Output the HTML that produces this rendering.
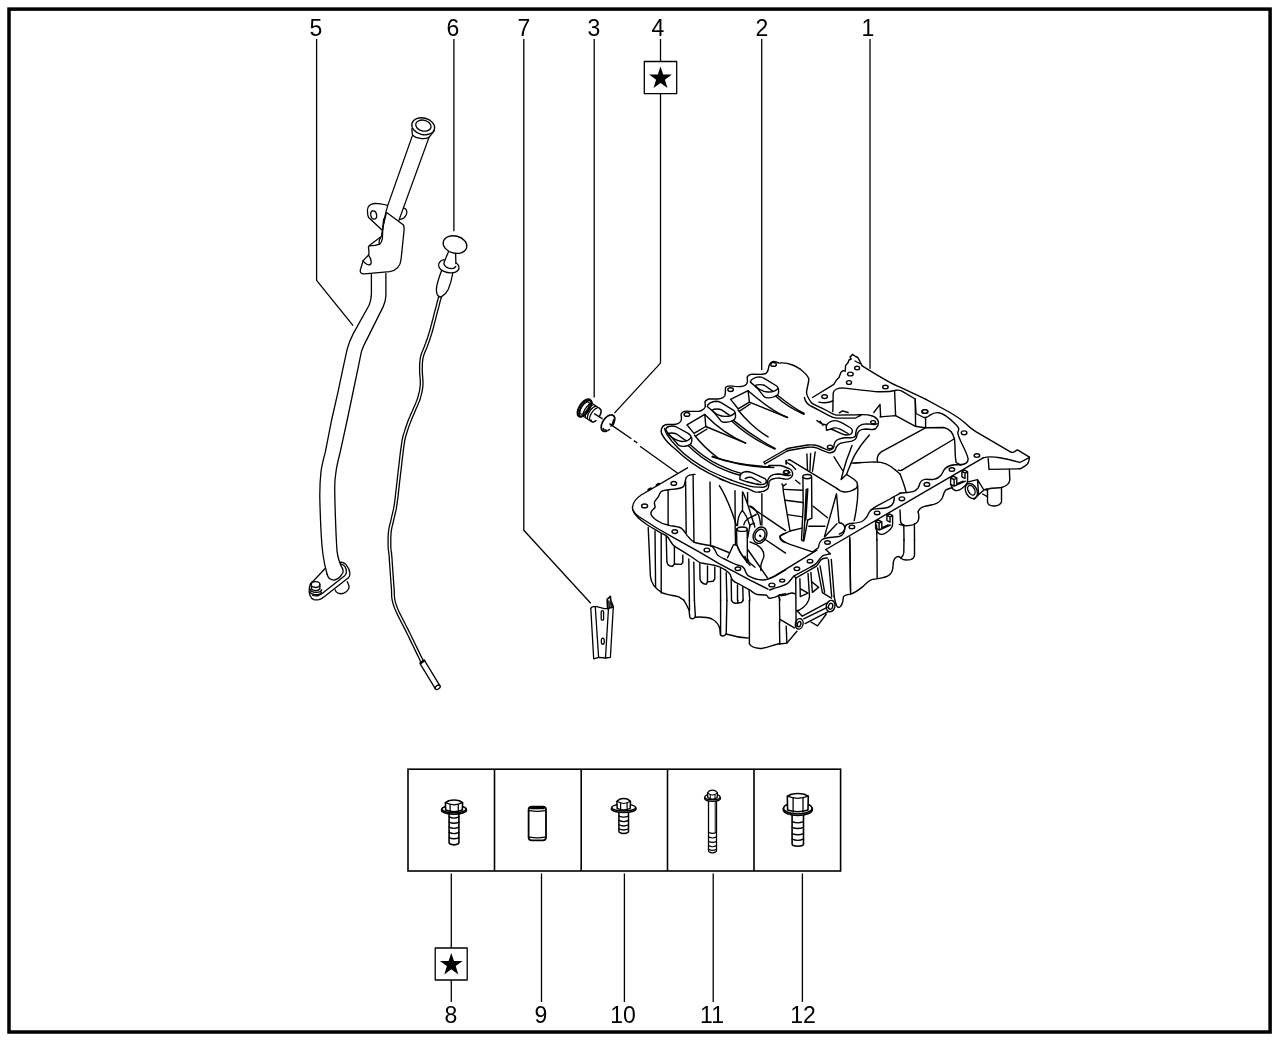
<!DOCTYPE html>
<html>
<head>
<meta charset="utf-8">
<title>Oil pan exploded view</title>
<style>
html,body{margin:0;padding:0;background:#fff;}
body{width:1280px;height:1041px;overflow:hidden;position:relative;font-family:"Liberation Sans",sans-serif;}
svg{position:absolute;left:0;top:0;}
.lbl{position:absolute;will-change:transform;font-size:23px;line-height:23px;color:#000;width:60px;text-align:center;margin-left:-30px;}
</style>
</head>
<body>
<svg width="1280" height="1041" viewBox="0 0 1280 1041" fill="none" stroke="#000" stroke-width="1.3" stroke-linecap="round" stroke-linejoin="round">
<!-- frame -->
<rect x="9" y="9.1" width="1261.1" height="1022.9" stroke-width="3.5" stroke-linejoin="miter"/>

<!-- PART 5 : dipstick guide tube -->
<g id="p5">
<!-- top flare -->
<ellipse cx="423.2" cy="126.3" rx="11.6" ry="8.3" transform="rotate(14 423.2 126.3)"/>
<ellipse cx="423.4" cy="125.6" rx="7.8" ry="5.4" transform="rotate(14 423.4 125.6)"/>
<path d="M411.9 128.5C411.8 131.5 412.3 133.5 412.6 135.2M434.4 130.5C432.8 133 430.6 135.4 429 137.2M412.6 135.2C416 138.6 424.5 139.8 429 137.2"/>
<!-- upper straight tube -->
<path d="M412.4 135.6L387.7 205.6C385 214 383 226 381.6 236.2M429 137.4L398.8 220.6"/>
<!-- ear with hole -->
<path d="M387.6 205.4C383 204.2 379 203.4 375.1 203.4C369.5 204 367.3 207 367.4 210.5C367.5 213.5 367.6 215.5 368.6 217.6L382 230"/>
<ellipse cx="373.7" cy="215" rx="2.9" ry="4.2" transform="rotate(-12 373.7 215)"/>
<path d="M403.4 207.9C406.5 208.6 407.6 211.5 406.4 214.4C405.2 217 402.8 219 400 219.4"/>
<!-- bracket body -->
<path d="M386.7 212.6L403.5 225.1C404.4 227 404.2 229 404 231L401.1 259C400.5 266 396 270.5 389.6 271.7L364.5 273.8C361.5 274 359.8 272.6 360.3 270.3L363.1 260.6L368.4 255.3C369.5 253 368.9 250 368.4 247.2L369.3 245.6L381.9 236.1"/>
<path d="M386.2 213.6C384 221 382.6 229 381.9 236.1M383.6 219C383 225 382.5 231 382.4 238.6C381.9 241.3 380.9 243.2 379.6 244.2C377 245.4 373 245.9 369.6 245.9"/>
<path d="M380.6 237.6C379.4 239.6 378.6 242.4 379.6 244.2"/>
<path d="M363.1 260.6C364.2 263 366 264.4 368.6 264.8C370.4 265 371 264.4 371.2 262.6C371.4 260 370.2 257.4 368.8 255.4"/>
<!-- lower tube -->
<path d="M371.4 274V294.4C371.2 299 370.4 302 369.1 305.3L353.4 333.4C350.5 339 348.6 343.5 347.2 349.1L344.1 363.1L337.8 392.8L331.6 420L325.3 452.2C323.2 460 321.6 466 320.9 472.5C320 481 319.7 489 319.8 497.5C320 508 320.4 518 320.9 528.8C321.4 539 322 548 323.2 556C324.2 563 325.6 569 327.1 574.2"/>
<path d="M385.9 273.4V296C385.6 300.4 384.6 303.6 383.1 306.9L367.5 338.1C364.6 343.6 362.6 347.5 361.3 352.2L358.1 367.8L351.9 397.5L347.2 420L340.2 452.2C338.2 460 336.6 466 335.9 472.5C335 478 334.7 483 334.7 488.1C334.8 499 335.1 509 335.5 519.4C335.9 531 336.3 541 337 550.6C337.8 558.5 340 564 342.7 569"/>
<path d="M327.1 574.2C328 577 329 578.4 330 578.8C331.6 580 333.2 580.2 334.6 580C337 579.4 339 578 340.3 576.5C341.8 574.6 342.8 573 343.2 571.9L342.7 569"/>
<!-- flange -->
<path d="M339.8 562.4C342 562 344.4 562.6 346 564.6C348 567 349.6 570.4 349.9 573.1C350 575 349.4 576.6 348.4 577.7L324.2 596.7C322.4 598.2 320.6 599.2 319 599.6C317 600 315.4 600 313.8 599.6C312 598.8 310.9 597.6 310.4 596.1C309.6 594.6 309.2 593 309.2 591.5C309.2 589 309.4 586.6 310.1 584.6C310.8 583 312 581.8 313.3 581.1"/>
<path d="M313.8 580.5L325.4 568.2"/>
<path d="M340.3 563.8C342.4 564 344 565.2 345 566.7C346 568.4 346.5 570.2 346.4 571.9C346.3 573.4 345.8 574.6 345 575.4L323.1 592.7C321.6 594 320 595 318.4 595.5C316.6 596 314.4 596 312.7 595.5"/>
<path d="M335.2 589.8C335.6 591.6 336.6 592.6 338 593.2C340 593.9 342 593.9 343.8 593.2C346 592.2 347.6 590.8 348.4 589.2C349 588 349.1 586.8 349 585.7L347.3 581.7"/>
<!-- stud -->
<ellipse cx="315.6" cy="584.6" rx="4.3" ry="2.9" fill="#fff"/>
<path d="M311.3 584.6V589M319.9 584.6V589M311.3 588.6C312.6 591.4 318.8 591.4 319.9 588.6M310.4 589.6C311 593 320.6 593.4 321.6 589.6M310.2 592C311.4 595.4 320 595.6 321.4 592.2"/>
</g>
<!-- PART 6 : dipstick -->
<g id="p6">
<ellipse cx="455" cy="244.6" rx="12" ry="8.6" transform="rotate(14 455 244.6)" fill="#fff"/>
<path d="M448.6 251.4L444.4 261.4M455.6 253.4L455.9 263.6"/>
<path d="M444.2 259.6C439.8 260.4 437.8 263.6 438.8 266.6C440.2 270.6 446.4 273.4 452.4 272.8C457.4 272.2 459.8 269.4 458.8 266.2C458.4 265 457.4 263.8 455.9 262.8"/>
<path d="M444.4 261.4C443.2 264 444.6 266.8 448.6 268.2C451.6 269 454.6 268.6 455.8 266.4"/>
<path d="M441.6 270.6C438.8 278 436.6 285 436.4 289.2C436.3 292.6 437.2 295 438.6 296.2C439.4 297 440.6 297.2 441.6 296.6C444.4 295 446.8 292.6 448.2 289.6C450.2 285 451.8 279 452.8 273"/>
<path d="M441.4 296.7L441.1 298.1L440.6 299.9L440.0 302.0L439.4 304.4L438.8 306.9L438.1 309.4L437.4 312.0L436.8 314.3L436.2 316.7L435.6 319.1L434.9 321.6L434.3 324.1L433.7 326.6L433.0 329.0L432.4 331.3L431.8 333.4L431.2 335.3L430.6 337.1L430.0 338.8L429.5 340.5L428.9 342.0L428.4 343.5L427.8 345.0L427.3 346.5L426.7 348.0L426.1 349.4L425.5 350.7L425.0 352.1L424.5 353.3L424.0 354.6L423.6 355.9L423.2 357.3L422.9 358.7L422.7 360.1L422.6 361.5L422.4 363.0L422.4 364.5L422.3 366.1L422.3 367.7L422.2 369.4L422.3 371.2L422.4 373.1L422.5 375.0L422.7 377.1L422.8 379.1L423.0 381.2L423.0 383.2L422.9 385.1L422.8 386.9L422.6 388.6L422.3 390.3L422.0 392.0L421.6 393.6L421.2 395.1L420.8 396.7L420.4 398.2L419.9 399.7L419.4 401.2L418.8 402.6L418.2 404.0L417.6 405.4L417.0 406.8L416.4 408.1L415.8 409.5L415.2 410.9L414.6 412.4L414.0 413.8L413.4 415.2L412.8 416.6L412.2 418.0L411.6 419.5L411.0 421.0L410.4 422.6L409.7 424.2L409.1 425.9L408.5 427.6L407.9 429.4L407.4 431.0L406.9 432.6L406.4 434.2L406.0 435.5L405.7 436.6L405.4 437.5L405.2 438.4L405.0 439.5L404.7 440.8L404.5 442.5L404.1 444.7L403.7 447.5L403.3 450.7L402.9 454.3L402.4 458.2L401.9 462.2L401.5 466.3L401.0 470.3L400.5 474.2L400.1 478.0L399.6 482.0L399.2 486.1L398.7 490.1L398.3 494.1L397.9 497.8L397.4 501.2L397.0 504.2L396.6 506.7L396.3 508.9L395.9 510.7L395.5 512.3L395.2 513.8L394.8 515.2L394.5 516.7L394.1 518.3L393.7 520.0L393.3 521.8L392.9 523.5L392.5 525.2L392.0 526.9L391.7 528.7L391.4 530.4L391.1 532.2L391.0 534.0L390.9 536.0L390.8 538.0L390.8 540.1L390.8 542.1L390.8 544.0L390.8 545.8L390.8 547.4L390.9 548.5L391.0 549.2L391.0 549.7L391.1 550.2L391.2 550.9L391.4 551.8L391.6 553.3L391.7 555.4L392.0 558.3L392.2 561.9L392.5 566.0L392.8 570.4L393.1 574.9L393.4 579.2L393.7 583.2L393.9 586.7L394.2 589.6L394.3 592.1L394.3 594.2L394.4 596.2L394.6 598.1L394.9 600.1L395.5 602.3L396.3 605.0L397.4 608.0L398.8 611.2L400.5 614.7L402.3 618.3L404.2 622.0L406.1 625.7L408.0 629.4L409.8 633.0L411.6 636.7L413.6 640.7L415.5 644.8L417.5 648.9L419.4 652.7L421.0 656.1L422.5 659.0L423.5 661.2"/>
<path d="M438.8 296.1L438.4 297.4L438.0 299.2L437.4 301.3L436.8 303.7L436.2 306.2L435.5 308.7L434.8 311.3L434.2 313.7L433.6 316.0L433.0 318.5L432.3 321.0L431.7 323.5L431.0 325.9L430.4 328.3L429.8 330.5L429.2 332.6L428.6 334.5L428.0 336.3L427.5 338.0L426.9 339.5L426.4 341.1L425.8 342.6L425.3 344.0L424.7 345.5L424.2 347.0L423.6 348.3L423.1 349.7L422.5 351.0L421.9 352.4L421.4 353.8L421.0 355.2L420.6 356.7L420.3 358.2L420.1 359.7L419.9 361.3L419.8 362.8L419.7 364.4L419.6 366.0L419.6 367.7L419.6 369.4L419.6 371.3L419.7 373.2L419.8 375.2L420.0 377.3L420.2 379.3L420.3 381.3L420.3 383.2L420.3 384.9L420.1 386.6L419.9 388.2L419.7 389.8L419.4 391.4L419.0 392.9L418.6 394.4L418.2 395.9L417.8 397.4L417.4 398.8L416.9 400.2L416.3 401.6L415.8 403.0L415.2 404.3L414.6 405.7L414.0 407.1L413.4 408.5L412.8 409.9L412.2 411.3L411.5 412.7L410.9 414.1L410.3 415.5L409.7 417.0L409.0 418.5L408.4 420.0L407.8 421.6L407.2 423.3L406.6 425.0L406.0 426.8L405.4 428.5L404.8 430.2L404.3 431.9L403.8 433.4L403.4 434.8L403.1 435.8L402.8 436.8L402.6 437.8L402.3 439.0L402.1 440.3L401.8 442.1L401.5 444.3L401.1 447.1L400.6 450.4L400.2 454.0L399.7 457.9L399.3 461.9L398.8 466.0L398.3 470.0L397.9 473.8L397.4 477.7L397.0 481.7L396.5 485.8L396.1 489.8L395.6 493.7L395.2 497.5L394.8 500.8L394.4 503.8L394.0 506.3L393.6 508.4L393.3 510.1L392.9 511.7L392.6 513.1L392.2 514.6L391.8 516.1L391.5 517.7L391.1 519.4L390.7 521.1L390.3 522.9L389.8 524.6L389.4 526.4L389.0 528.1L388.7 530.0L388.5 531.8L388.3 533.8L388.2 535.9L388.1 538.0L388.1 540.1L388.1 542.1L388.1 544.1L388.1 545.8L388.2 547.4L388.2 548.7L388.3 549.5L388.4 550.2L388.5 550.7L388.6 551.3L388.7 552.2L388.9 553.6L389.1 555.6L389.3 558.5L389.5 562.1L389.8 566.2L390.1 570.6L390.4 575.1L390.7 579.4L391.0 583.4L391.3 586.9L391.5 589.7L391.6 592.2L391.6 594.3L391.7 596.4L391.9 598.5L392.3 600.6L392.9 603.1L393.7 605.8L394.9 609.0L396.4 612.3L398.1 615.9L399.9 619.5L401.8 623.2L403.7 626.9L405.6 630.6L407.4 634.2L409.2 637.9L411.1 641.9L413.1 646.0L415.1 650.1L416.9 653.9L418.6 657.3L420.0 660.2L421.1 662.4"/>
<!-- tip -->
<path d="M420.2 663.8L424.6 660.6L439.8 685.6M420.2 663.8L435.4 688.8"/>
<path d="M420.6 663L424.2 660.4" stroke-width="2.4"/>
<ellipse cx="437.7" cy="687.3" rx="2.8" ry="1.8" transform="rotate(-36 437.7 687.3)"/>
</g>
<!-- PART 7 : small bracket -->
<g id="p7" stroke-width="1.3">
<path d="M590.8 608.3L593.7 658.9L598.6 657.3L605.5 658L610.4 657.3L613.3 607"/>
<path d="M590.8 608.3C591.4 607.2 592.4 606.8 593.5 606.7L596.9 606.6L604.3 608.7L607.6 608.7L613.3 607"/>
<path d="M607.6 608.7L607.1 599.3L610.4 596.4L610.8 600.5L613.3 606.8" stroke-width="1.6"/>
<path d="M608.9 601L609.2 608.4M610.8 602.6L611.3 607.8" stroke-width="1.5"/>
<path d="M595.3 607L598.6 657.3M608.4 609.5L605.5 658"/>
<rect x="601.2" y="610.7" width="2.4" height="9.4" rx="1.2"/>
<ellipse cx="602.8" cy="641.3" rx="1.5" ry="3.1"/>
</g>
<!-- PART 3 : drain plug -->
<g id="p3">
<path d="M588.4 410.6L587.5 411.8L586.5 413.0L585.5 414.0L584.4 414.9L583.3 415.6L582.3 416.1L581.3 416.4L580.4 416.6L579.6 416.5L578.9 416.1L578.3 415.6L577.9 414.9L577.7 414.0L577.6 413.0L577.7 411.8L577.9 410.6L578.3 409.3L578.9 407.9L579.6 406.6L580.4 405.2L581.3 404.0L582.3 402.8L583.3 401.8L584.4 400.9L585.5 400.2L586.5 399.7L587.5 399.4L588.4 399.2L589.2 399.3L589.9 399.7L590.5 400.2L590.9 400.9L591.1 401.8L591.2 402.8L591.1 404.0L590.9 405.2L590.5 406.5L589.9 407.9L589.2 409.2L588.4 410.6" stroke-width="2.1" fill="#fff"/>
<path d="M581.2 417.0L580.7 416.8L580.2 416.5L579.8 416.1L579.5 415.5L579.3 414.9L579.2 414.1L579.2 413.3L579.3 412.4L579.5 411.5L579.8 410.5L580.1 409.5L580.6 408.5L581.1 407.5L581.7 406.5L582.4 405.6L583.1 404.6L583.8 403.8L584.6 403.0L585.4 402.3L586.2 401.8L587.0 401.3L587.7 400.9L588.5 400.6L589.2 400.5L589.8 400.5L590.4 400.6L590.9 400.8L591.4 401.2L591.7 401.7L592.0 402.2" stroke-width="1.5"/>
<path d="M587.1 409.7L586.2 410.9L585.3 412.0L584.3 412.9L583.3 413.6L582.4 414.0L581.6 414.2L580.9 414.1L580.4 413.8L580.0 413.2L579.9 412.4L580.0 411.3L580.2 410.2L580.7 408.9L581.3 407.6L582.1 406.3L583.0 405.1L583.9 404.0L584.9 403.1L585.9 402.4L586.8 402.0L587.6 401.8L588.3 401.9L588.8 402.2L589.2 402.8L589.3 403.6L589.2 404.7L589.0 405.8L588.5 407.1L587.9 408.4L587.1 409.7" stroke-width="1.2"/>
<path d="M584.8 417.0L584.2 416.9L583.8 416.7L583.5 416.3L583.2 415.7L583.1 415.1L583.2 414.3L583.3 413.4L583.5 412.5L583.9 411.5L584.4 410.4L584.9 409.4L585.6 408.4L586.3 407.4L587.0 406.5L587.8 405.7L588.6 404.9L589.3 404.3L590.1 403.9L590.8 403.6L591.5 403.4L592.1 403.4L592.6 403.6L593.0 403.9L593.2 404.3" stroke-width="1.25"/>
<path d="M586.9 418.4L586.4 418.3L585.9 418.1L585.6 417.7L585.4 417.2L585.3 416.5L585.3 415.7L585.4 414.8L585.7 413.9L586.0 412.9L586.5 411.8L587.0 410.8L587.7 409.8L588.4 408.8L589.1 407.9L589.9 407.1L590.7 406.3L591.5 405.7L592.2 405.3L592.9 405.0L593.6 404.8L594.2 404.8L594.7 405.0L595.1 405.3L595.4 405.7" stroke-width="1.25"/>
<path d="M589.0 419.9L588.5 419.8L588.0 419.5L587.7 419.1L587.5 418.6L587.4 417.9L587.4 417.1L587.5 416.3L587.8 415.3L588.1 414.3L588.6 413.3L589.2 412.2L589.8 411.2L590.5 410.2L591.2 409.3L592.0 408.5L592.8 407.8L593.6 407.2L594.3 406.7L595.1 406.4L595.7 406.2L596.3 406.2L596.8 406.4L597.2 406.7L597.5 407.2" stroke-width="1.25"/>
<path d="M591.1 421.3L590.6 421.2L590.2 420.9L589.8 420.5L589.6 420.0L589.5 419.3L589.5 418.5L589.7 417.7L589.9 416.7L590.3 415.7L590.7 414.7L591.3 413.6L591.9 412.6L592.6 411.6L593.4 410.7L594.1 409.9L594.9 409.2L595.7 408.6L596.5 408.1L597.2 407.8L597.8 407.6L598.4 407.6L598.9 407.8L599.3 408.1L599.6 408.6" stroke-width="1.25"/>
<path d="M600.0 408.9L600.3 409.1L600.6 409.3L600.8 409.6L600.9 410.0L601.0 410.4L601.1 410.9L601.1 411.4L601.1 412.0L601.0 412.6L600.8 413.2L600.6 413.9L600.3 414.5L600.0 415.2L599.7 415.9" stroke-width="1.5"/>
<path d="M595.9 420.5L595.4 420.9L594.9 421.3L594.4 421.6L593.9 421.8L593.4 421.9L592.9 422.0L592.5 421.9L592.2 421.9L591.8 421.7L591.6 421.5L591.3 421.2L591.2 420.8L591.0 420.4L591.0 419.9" stroke-width="1.5"/>
</g>
<!-- PART 4 : washer -->
<g id="p4">
<path d="M605.7 431.4L604.9 431.5L604.1 431.4L603.3 431.2L602.7 430.8L602.2 430.3L601.7 429.6L601.4 428.9L601.3 428.0L601.2 427.0L601.3 425.9L601.5 424.8L601.9 423.7L602.3 422.5L602.9 421.4L603.6 420.3L604.4 419.2L605.2 418.2L606.1 417.4L607.0 416.6L607.9 416.0L608.9 415.5L609.8 415.1L610.7 415.0L611.5 414.9L612.3 415.1L613.0 415.4L613.6 415.8L614.1 416.4L614.4 417.1L614.7 418.0" stroke-width="1.7"/>
<path d="M614.7 418.0L614.8 418.6L614.8 419.2L614.8 419.9L614.7 420.6L614.5 421.3L614.3 422.0L614.1 422.8L613.8 423.5L613.5 424.3L613.1 425.0" stroke-width="1.4"/>
<path d="M609.5 429.4L609.0 429.8L608.5 430.1L608.1 430.4L607.6 430.7L607.1 430.9L606.6 431.1L606.2 431.3L605.7 431.4" stroke-width="1.4"/>
<path d="M613.6 419.9L613.5 420.5L613.4 421.1L613.2 421.7L613.0 422.3L612.8 422.9L612.5 423.6L612.2 424.2L611.8 424.8L611.4 425.4L611.0 426.0" stroke-width="1.6"/>
<path d="M606.2 430.0L605.8 430.1L605.4 430.1L605.0 430.1L604.6 430.0L604.3 429.9L604.0 429.7L603.8 429.5L603.6 429.2L603.4 428.8L603.3 428.4" stroke-width="1.5"/>
</g>
<!-- axis line -->
<g stroke-width="1.3" stroke-linecap="butt">
<path d="M594.2 413.6L602.6 418.9M609.4 423.6L631.4 438.8M633.8 440.6L637.4 443M640 446.2L677.4 473"/>
</g>
<!-- PAN START -->
<g id="pan" stroke-width="1.4">
<!-- A -->
<path d="M662.2 434.6C661.5 433.1 661.1 431.9 661.2 431.2C661.2 430.0 661.5 429.0 661.8 428.4C662.2 427.0 663.1 426.0 664.1 425.5C665.0 424.9 666.0 424.6 667.0 424.5L675.1 424.2C676.6 424.1 678.0 423.8 679.0 423.0C680.1 422.2 680.9 421.5 681.1 420.6C681.5 419.4 681.5 418.1 681.4 416.8C681.2 415.9 681.1 415.0 681.1 414.4C681.2 413.5 681.8 412.9 682.4 412.5C683.0 411.9 683.6 411.5 684.2 411.4C685.6 411.1 687.2 411.1 688.6 411.2L698.2 411.4C699.8 411.2 701.0 410.9 702.1 410.1C703.5 409.4 704.5 408.4 705.0 407.2C705.4 406.1 705.4 405.0 705.2 403.9C705.1 403.0 705.0 402.2 705.0 401.5C705.4 400.8 706.0 400.2 706.9 400.0C707.6 399.5 708.4 399.1 709.2 399.0L718.0 399.0C719.6 398.9 721.1 398.5 722.4 397.9C723.5 397.4 724.4 396.6 724.8 395.8C725.2 394.5 725.4 393.1 725.4 391.9L725.4 388.0C725.8 387.2 726.4 386.6 727.2 386.4C728.1 386.0 729.0 385.9 730.0 385.9C731.5 385.9 733.0 386.1 734.4 386.4L738.8 386.6C740.2 386.6 741.8 386.5 743.1 386.1C744.5 385.6 745.6 385.0 746.4 384.2C747.1 383.2 747.5 382.1 747.5 380.9C747.5 379.6 747.2 378.4 747.2 377.1C747.6 376.2 748.2 375.6 749.1 375.1C750.2 374.5 751.6 374.2 753.0 374.1L760.6 374.4C762.2 374.4 763.8 374.1 765.0 373.8C766.5 373.1 767.8 371.6 768.4 368.8C768.8 365.6 769.4 362.5 772.5 361.6C775.0 361.2 776.9 361.9 778.8 363.1C782.5 362.5 788.8 363.5 792.5 365.0C795.6 366.2 798.1 367.8 800.0 369.0"/>
<ellipse cx="686.9" cy="414.4" rx="2.8" ry="1.9"/>
<ellipse cx="730.6" cy="389.6" rx="2.8" ry="1.9"/>
<ellipse cx="773.5" cy="364.4" rx="2.8" ry="1.9"/>
<path d="M662.2 434.6C665.0 440.0 670.0 445.0 675.0 448.8C683.8 457.5 697.5 467.5 708.8 473.1C715.0 476.2 720.0 478.8 723.8 480.6"/>
<path d="M664.6 428.4C665.0 430.0 665.6 432.5 666.9 434.4C670.0 439.4 673.8 443.8 678.0 448.1C685.6 456.2 698.8 465.0 710.0 471.0C717.5 474.8 725.0 477.5 731.2 480.0"/>
<path d="M688.1 445.6C695.0 452.5 706.2 461.2 717.5 466.9C726.2 471.0 733.8 473.8 739.4 475.0"/>
<path d="M690.6 445.0C697.5 451.5 708.1 459.8 719.4 465.2C727.5 469.0 735.0 471.9 740.6 473.1"/>
<path d="M686.9 424.8L704.8 414.4L705.8 426.5L694.0 433.4Z"/>
<path d="M695.6 436.2L707.0 429.0"/>
<path d="M705.8 426.5L745.6 443.1"/>
<path d="M704.8 414.4C715.0 425.0 730.0 436.2 745.6 443.1"/>
<path d="M694.4 435.0C700.0 442.5 707.5 450.0 717.5 457.5"/>
<path d="M730.6 399.4L748.1 390.6L749.4 402.1L738.1 408.8Z"/>
<path d="M739.5 411.2L750.2 404.0"/>
<path d="M749.4 402.1L787.5 417.5"/>
<path d="M748.4 391.0C758.8 400.0 773.8 411.9 787.5 417.5"/>
<path d="M738.1 410.0C743.8 417.5 756.2 430.0 768.1 436.9"/>
<path d="M731.9 421.2C742.5 431.2 760.0 442.5 775.0 449.0"/>
<path d="M733.8 420.6C745.0 430.0 761.2 441.2 775.0 448.4"/>
<path d="M775.6 396.0C782.5 402.5 793.8 410.0 803.8 414.0"/>
<path d="M777.5 395.2C785.0 401.2 795.0 408.8 803.8 413.2"/>
<path d="M711.9 456.9C725.0 461.2 750.0 467.5 773.8 467.5"/>
<path d="M712.5 456.2C730.0 463.1 753.8 466.2 770.0 466.8"/>
<path d="M666.0 430.0C665.6 428.1 666.9 427.1 668.8 426.5C671.2 425.9 673.8 426.0 675.6 426.5L688.6 433.6C690.2 434.8 691.2 436.2 691.8 438.1C692.1 440.2 692.0 442.2 691.0 443.5C689.8 445.0 686.9 446.0 683.9 446.4C681.9 446.5 680.0 446.0 678.1 444.8L668.8 434.0C667.5 432.5 666.5 431.2 666.0 430.0Z"/>
<path d="M667.8 433.6C670.0 432.9 673.8 432.9 676.9 434.2L686.2 440.9"/>
<path d="M668.5 434.6C671.9 438.1 676.9 440.9 681.9 441.5C685.6 441.6 689.4 440.0 690.8 437.5"/>
<!-- A2_slots -->
<path d="M707.2 406.5C707.7 403.6 712.0 401.5 715.9 401.3C718.3 401.3 719.7 402.0 721.1 402.7L733.6 410.4C735.3 411.6 735.8 414.2 735.4 417.6C734.8 420.0 730.7 421.9 725.9 422.3C723.5 422.4 721.9 421.9 720.9 420.9L714.4 412.8C712.5 410.9 709.6 408.4 707.2 406.5Z"/>
<path d="M712.0 410.1C714.4 408.7 719.2 408.7 721.6 409.9L729.3 415.2"/>
<path d="M712.7 410.9C715.9 414.2 720.7 416.1 725.0 416.4C728.8 416.5 733.1 415.2 734.8 413.0"/>
<path d="M750.3 382.1C750.8 379.2 755.1 377.1 759.0 376.9C761.4 376.9 762.8 377.6 764.2 378.3L776.7 386.0C778.4 387.2 778.9 389.8 778.5 393.2C777.9 395.6 773.8 397.5 769.0 397.9C766.6 398.0 765.0 397.5 764.0 396.5L757.5 388.4C755.6 386.5 752.7 384.0 750.3 382.1Z"/>
<path d="M755.1 385.7C757.5 384.3 762.3 384.3 764.7 385.5L772.4 390.8"/>
<path d="M755.8 386.5C759.0 389.8 763.8 391.7 768.1 392.0C771.9 392.1 776.2 390.8 777.9 388.6"/>
<!-- B -->
<path d="M852.5 354.4L855.6 356.5L857.8 357.5L859.8 361.2L861.9 365.6C875.0 373.8 887.5 381.9 900.0 387.2L925.0 398.8"/>
<path d="M812.5 397.5L833.8 384.4L836.5 380.0L839.0 377.5L841.0 372.2L843.1 370.6L845.2 371.2L845.6 365.6L848.1 362.5L849.0 360.0L851.2 359.0L850.0 357.1L852.5 354.4"/>
<path d="M855.0 361.0L859.8 363.5"/>
<ellipse cx="857.1" cy="368.1" rx="2.5" ry="1.8"/>
<ellipse cx="850.4" cy="374.0" rx="2.8" ry="1.9"/>
<ellipse cx="849.0" cy="382.5" rx="2.5" ry="1.9"/>
<ellipse cx="885.4" cy="387.1" rx="2.8" ry="1.8"/>
<ellipse cx="824.6" cy="396.6" rx="2.8" ry="1.9"/>
<ellipse cx="924.8" cy="411.5" rx="3.0" ry="1.9"/>
<path d="M818.8 402.1C823.8 403.1 829.4 402.5 832.8 401.0"/>
<path d="M832.8 411.5L833.2 393.1C833.8 390.0 837.5 388.1 841.9 387.9C850.0 388.5 862.5 390.6 875.0 391.6C885.0 392.2 892.5 391.2 896.2 390.2C898.8 390.0 900.0 390.2 901.9 391.2L915.2 399.0L916.0 413.5L923.8 417.5L925.6 417.5"/>
<path d="M894.6 391.2L895.6 415.6"/>
<path d="M880.0 416.9L895.6 415.6L915.0 426.2L925.0 427.8"/>
<path d="M915.2 399.0L915.6 426.2"/>
<path d="M925.6 417.8L925.6 427.5"/>
<path d="M873.8 412.5L880.0 404.4L880.6 416.9"/>
<path d="M925.0 427.8L943.8 427.5C950.0 428.8 953.1 433.8 954.4 438.8C955.6 446.2 954.4 455.0 956.2 462.5L960.6 465.2"/>
<path d="M925.0 428.1L881.2 451.9C878.1 454.4 876.5 458.1 877.5 461.9"/>
<path d="M954.0 439.0L901.9 470.2"/>
<path d="M851.2 463.1L875.0 461.9C882.5 461.9 890.0 465.0 895.6 470.2"/>
<path d="M800.0 369.0C803.8 371.9 807.5 375.0 808.8 378.8C809.0 382.5 806.9 387.5 806.5 392.5C806.9 396.2 809.4 400.0 811.5 402.8"/>
<ellipse cx="873.1" cy="422.2" rx="2.4" ry="1.6"/>
<ellipse cx="830.0" cy="446.9" rx="2.6" ry="1.8"/>
<path d="M826.2 426.5C826.9 423.1 830.6 420.6 835.0 420.6C837.5 420.6 840.0 421.9 842.5 423.1L850.0 427.5C852.5 429.0 853.1 431.9 851.5 433.5C849.4 435.2 845.0 435.0 841.9 433.8L831.2 429.0L826.5 430.2Z"/>
<path d="M831.2 429.0C833.8 427.5 837.5 427.8 840.6 429.4L848.1 433.5"/>
<path d="M816.9 420.6L821.9 424.0L825.6 424.8M820.0 421.2L823.1 425.2"/>
<path d="M800.0 411.9L803.8 413.8" stroke-width="2"/>
<path d="M839.4 412.8L842.5 410.8L848.1 412.5"/>
<!-- C -->
<path d="M925.0 398.8L950.0 412.5C956.2 416.2 961.2 419.4 965.0 423.1C968.1 426.2 971.2 429.0 976.2 431.9L1010.0 451.6C1011.9 452.8 1013.8 452.5 1015.2 451.2L1017.5 449.8L1029.4 457.2"/>
<path d="M1029.4 457.2C1029.4 460.6 1028.1 463.8 1025.6 465.6L1020.2 468.8L989.0 469.4L988.2 458.5"/>
<path d="M983.1 457.8C987.5 456.5 995.0 456.9 1000.0 457.8C1007.5 459.0 1015.0 461.2 1019.8 462.5L1028.8 457.8"/>
<ellipse cx="925.0" cy="411.5" rx="2.8" ry="1.9"/>
<ellipse cx="964.1" cy="432.8" rx="2.8" ry="1.9"/>
<ellipse cx="976.9" cy="455.6" rx="2.8" ry="1.8"/>
<ellipse cx="951.9" cy="469.6" rx="2.8" ry="1.8"/>
<ellipse cx="926.9" cy="484.4" rx="2.8" ry="1.9"/>
<ellipse cx="901.9" cy="498.8" rx="2.8" ry="1.9"/>
<path d="M925.6 417.5C926.9 417.5 928.1 416.5 930.0 415.2C932.5 413.5 935.6 412.2 938.8 412.8C943.8 413.5 950.0 418.8 955.0 423.8C957.5 426.2 958.8 427.8 958.8 429.4C958.5 430.6 957.8 431.5 957.8 432.8C958.1 436.2 960.6 441.2 962.5 445.0C965.0 450.0 967.5 455.0 968.1 458.8C968.1 461.2 966.9 463.1 964.4 464.0C961.9 465.0 958.8 464.8 955.0 464.8C951.2 465.0 948.1 466.0 945.6 468.1C943.1 470.2 942.8 473.1 941.0 475.2C939.4 477.2 936.9 478.8 933.8 479.4C930.6 480.0 928.1 479.0 925.0 479.4C921.9 480.0 920.0 481.9 919.4 484.8C918.8 487.5 917.5 489.4 914.8 490.8C911.9 491.9 907.5 492.5 903.8 492.8L899.4 493.2"/>
<path d="M900.0 474.0C901.9 478.8 904.4 485.0 906.0 491.9"/>
<path d="M918.1 511.9C919.0 515.0 919.5 518.8 917.5 521.9C915.0 525.0 908.8 526.0 903.8 525.6L899.4 524.4"/>
<path d="M918.1 511.9C918.5 510.0 920.2 508.2 922.5 507.2C925.6 506.0 930.0 505.2 933.8 504.4C937.5 503.5 940.6 501.2 942.5 497.5C943.5 495.0 943.8 491.9 945.6 490.2C947.5 489.0 950.0 488.1 952.5 487.5"/>
<path d="M950.6 477.8L953.2 476.2L956.8 478.0L954.1 479.5ZM950.6 477.8L950.6 484.5L954.1 486.2L954.1 479.5M954.1 486.2L965.4 481.2M956.8 478.0L956.8 484.0L963.1 481.2"/>
<path d="M961.9 471.5L964.8 470.2L967.6 471.8L965.0 473.1ZM961.9 471.5L961.9 476.8L965.0 478.5L965.0 473.1M967.6 471.8L967.6 480.8M951.2 484.9C951.5 487.5 953.0 489.8 955.2 490.5C957.2 491.0 959.8 490.0 961.5 488.8C964.0 487.1 966.2 485.0 967.1 483.0L967.6 480.8"/>
<ellipse cx="971.4" cy="491.0" rx="5.5" ry="8.0" transform="rotate(-28 971.4 491.0)"/>
<ellipse cx="971.4" cy="490.2" rx="3.2" ry="5.2" transform="rotate(-28 971.4 490.2)"/>
<path d="M968.2 481.9L977.5 479.6L983.9 490.0L978.0 495.2L974.0 499.2M977.5 479.6L978.6 494.0M983.9 490.0L986.8 488.9M982.6 494.0L987.0 496.4"/>
<path d="M987.5 489.0L987.5 502.2C988.1 505.0 991.2 506.2 994.4 506.0C998.1 505.6 1000.6 504.4 1001.5 501.9L1001.5 487.5"/>
<path d="M1009.4 469.5L1009.8 480.0C1009.4 483.8 1006.2 486.2 1001.5 487.5C997.5 488.1 992.5 487.8 988.8 488.8L986.2 490.2"/>
<path d="M875.6 521.5L878.2 520.0L881.8 521.8L879.1 523.2ZM875.6 521.5L875.6 528.2L879.1 530.0L879.1 523.2M879.1 530.0L890.4 525.0M881.8 521.8L881.8 527.8L888.1 525.0"/>
<path d="M886.9 515.2L889.8 514.0L892.6 515.5L890.0 516.9ZM886.9 515.2L886.9 520.5L890.0 522.2L890.0 516.9M892.6 515.5L892.6 524.5M876.2 528.6C876.5 531.2 878.0 533.5 880.2 534.2C882.2 534.8 884.8 533.8 886.5 532.5C889.0 530.9 891.2 528.8 892.1 526.8L892.6 524.5"/>
<!-- D -->
<path d="M687.5 467.8L641.2 495.0C636.9 497.8 633.1 501.9 632.5 506.9C632.2 510.6 635.0 513.8 638.8 516.5L657.5 528.5L675.8 538.9L700.0 552.4L719.5 563.8L750.0 580.2L768.0 589.1"/>
<path d="M632.8 510.0C634.4 515.0 640.0 520.0 647.5 525.0L661.2 533.1C663.8 534.4 666.2 535.0 668.1 537.5C670.0 540.0 671.9 544.4 674.4 546.2C677.5 548.1 683.8 551.9 692.5 557.5C696.2 560.2 698.8 562.2 700.0 562.6C705.0 564.0 711.2 564.5 714.0 565.2C716.9 566.0 718.8 566.5 719.5 566.9C723.8 568.8 728.1 571.9 729.8 573.9C731.2 576.2 731.2 578.8 732.8 580.2C734.4 582.1 736.9 583.1 739.0 584.0L750.0 590.2C752.5 591.9 754.4 593.5 756.2 594.2C760.0 595.2 763.8 594.8 766.4 595.0C767.5 595.6 767.8 597.5 768.8 598.1C770.6 598.5 773.1 597.8 775.0 597.2C776.9 596.5 778.5 595.5 779.6 595.0L785.6 593.8"/>
<path d="M648.5 489.9L650.8 488.6" stroke-width="2.4"/>
<path d="M656.8 485.1L659.0 483.9" stroke-width="2.4"/>
<path d="M695.0 474.4C691.2 474.4 687.5 475.6 686.2 477.5C685.2 480.0 685.2 483.8 683.8 486.2C681.9 488.5 676.2 489.0 671.2 489.4C667.5 489.8 663.1 490.2 661.2 491.5C659.4 493.1 659.0 495.6 658.1 497.2C656.9 499.0 655.0 500.0 654.5 502.2C654.0 504.4 655.6 506.0 655.0 507.5C654.0 509.0 651.5 510.2 650.9 512.8C650.6 515.0 652.5 517.2 656.2 520.0C658.8 521.9 663.8 524.4 668.1 525.0C669.0 525.2 669.5 525.5 670.0 525.6C673.8 526.2 678.1 526.2 681.2 528.1C683.8 530.0 685.0 532.5 687.2 535.6C689.4 538.5 691.9 541.2 695.6 542.8C700.0 544.0 707.5 544.8 711.2 545.8C713.8 546.9 715.0 550.0 716.9 554.0C718.1 556.2 721.2 557.5 724.4 559.0C728.8 561.2 733.8 564.0 737.5 565.0C740.6 565.6 743.1 566.5 744.4 568.8C745.6 571.2 745.6 573.8 748.1 575.6C751.2 577.5 757.5 579.8 762.5 580.0C767.5 580.0 771.9 577.8 775.0 576.2L785.6 569.8"/>
<ellipse cx="673.8" cy="483.4" rx="2.8" ry="1.9"/>
<ellipse cx="644.6" cy="505.9" rx="3.0" ry="1.9"/>
<ellipse cx="674.8" cy="531.6" rx="2.8" ry="1.9"/>
<ellipse cx="706.9" cy="550.0" rx="2.8" ry="1.9"/>
<ellipse cx="737.9" cy="568.8" rx="2.8" ry="1.8"/>
<ellipse cx="771.9" cy="585.0" rx="3.0" ry="1.9"/>
<ellipse cx="782.2" cy="580.6" rx="2.5" ry="1.5"/>
<path d="M668.1 490.6L668.1 525.0"/>
<path d="M685.6 481.2L686.2 532.5"/>
<path d="M693.1 475.0L694.0 542.5"/>
<path d="M710.0 481.9L710.6 546.2"/>
<path d="M719.4 485.6C723.8 492.5 728.8 503.8 732.5 513.8L736.5 525.6"/>
<path d="M735.0 490.6L735.2 530.0L735.6 545.0"/>
<path d="M743.1 492.5C745.6 498.8 748.8 506.2 750.6 513.8L753.8 523.8"/>
<path d="M747.6 492.6L747.6 503.6"/>
<path d="M761.9 493.8L761.9 525.0"/>
<path d="M750.0 506.5L785.6 530.6"/>
<path d="M763.8 538.5L785.6 553.1"/>
<path d="M748.1 550.0L767.5 577.8"/>
<path d="M745.0 556.2L746.9 562.5"/>
<ellipse cx="742.2" cy="529.2" rx="5.0" ry="2.2"/>
<path d="M736.6 528.8L736.8 543.5C737.5 548.1 740.0 552.5 742.5 555.6C746.2 560.2 751.2 564.4 755.0 567.2"/>
<path d="M747.2 529.4L747.4 559.0L748.8 561.2"/>
<path d="M737.5 525.6C737.5 520.0 739.4 513.8 742.2 510.6C745.0 513.1 748.1 520.0 750.0 526.0"/>
<path d="M743.8 524.8C744.4 521.9 746.9 519.0 750.0 517.6L756.2 514.5"/>
<path d="M750.0 506.0C753.8 507.5 756.9 511.2 758.8 515.6C760.0 519.4 760.4 522.5 760.5 524.8"/>
<ellipse cx="760.0" cy="535.2" rx="6.5" ry="8.5" transform="rotate(25 760.0 535.2)"/>
<ellipse cx="760.0" cy="535.2" rx="4.8" ry="6.2" transform="rotate(25 760.0 535.2)"/>
<path d="M759.8 535.6L760.5 536.2" stroke-width="2"/>
<path d="M727.5 557.8L733.5 544.8C735.0 544.0 736.9 545.0 737.5 546.5C739.4 551.2 743.8 558.8 750.0 565.2"/>
<path d="M712.5 545.9L728.8 552.5"/>
<path d="M750.0 541.9L756.9 544.8C761.2 547.5 764.4 551.9 763.8 556.9C762.5 561.2 759.4 565.0 761.0 570.6"/>
<path d="M785.6 533.1C781.9 533.8 779.4 535.6 780.0 538.1C780.6 540.6 783.1 541.9 785.6 542.5"/>
<path d="M648.2 527.2L650.4 576.2C651.0 583.1 656.2 589.4 662.5 592.9C667.5 595.0 675.0 595.6 678.8 596.9L683.8 600.2"/>
<path d="M655.0 531.0L655.6 587.2M661.2 534.0L661.2 593.1"/>
<path d="M666.2 536.0L666.9 561.9C667.5 565.0 670.0 566.5 672.5 566.2L674.4 564.0L674.4 546.5"/>
<path d="M674.4 564.0L681.0 564.4L682.8 562.5L682.8 555.2"/>
<path d="M688.8 559.0L689.4 600.2M693.8 562.2L694.4 600.2"/>
<path d="M699.8 563.5L700.0 579.0C700.6 581.9 703.1 584.0 706.2 584.4L707.5 581.9L707.5 566.0"/>
<path d="M707.5 581.9L713.1 581.2L714.8 579.0L714.8 566.9"/>
<path d="M726.2 572.8L726.9 600.2M731.2 579.0L731.5 600.2"/>
<path d="M737.5 585.0L737.5 600.2M742.8 586.9L743.1 600.2M749.0 590.2L749.8 600.2"/>
<path d="M778.8 596.2L780.0 600.2"/>
<path d="M720.5 568.5L720.6 600.2"/>
<path d="M747.6 538.0L750.0 524.8L753.9 523.1L754.8 527.0"/>
<path d="M742.5 491.9L742.5 510.6"/>
<!-- E -->
<path d="M719.5 478.5L731.2 483.4L743.8 487.4L748.6 488.8C750.6 489.8 752.5 491.0 754.9 491.9C756.5 492.2 758.1 492.2 759.8 492.0"/>
<path d="M731.2 480.2L736.9 482.2L749.4 486.1C752.5 487.0 756.2 487.2 760.2 487.1L761.8 487.4"/>
<path d="M739.9 477.2C740.0 474.4 742.5 472.0 746.5 471.5C749.4 471.5 751.2 472.2 753.1 473.1L764.9 478.6C766.2 479.8 766.6 481.9 765.6 483.2C764.4 484.4 761.9 484.6 760.0 484.5C758.1 484.5 756.2 484.0 755.0 483.8L746.9 481.8L739.9 479.4Z"/>
<path d="M745.2 478.6C746.9 477.5 749.4 477.1 751.5 477.4L760.9 482.5"/>
<path d="M768.8 465.5L780.5 465.5C782.5 465.9 783.8 466.5 785.1 467.0C787.5 467.9 788.8 468.4 789.9 469.0C791.2 469.8 792.0 470.5 792.1 471.4C792.6 472.8 792.8 474.0 792.5 474.9C792.2 476.2 791.6 477.0 791.0 477.6C790.0 478.5 789.2 478.9 788.2 479.1C787.2 479.2 786.2 479.2 785.1 479.1C783.8 478.9 782.5 478.6 781.2 478.4C780.0 478.1 778.8 478.0 777.4 478.1C775.9 478.2 774.6 478.4 773.4 478.8C772.2 479.1 771.4 479.5 770.6 479.9C770.0 480.5 769.5 481.2 769.1 481.9C768.8 483.0 768.8 484.0 768.8 485.0C768.6 485.9 768.5 486.6 768.4 487.4C768.0 488.4 767.5 489.1 766.8 489.6C765.9 490.4 764.8 490.9 763.6 491.2C762.5 491.6 761.2 491.9 759.8 492.0"/>
<path d="M790.6 474.9C790.2 475.4 789.8 475.6 789.0 475.6C787.5 475.6 786.2 475.5 785.1 475.2C783.8 474.9 782.5 474.5 781.2 474.2C780.0 474.0 778.8 474.0 777.4 474.0C775.9 474.1 774.6 474.4 773.4 474.6C772.2 475.1 771.2 475.8 770.2 476.4C769.5 477.1 768.9 477.9 768.4 478.8C767.9 479.8 767.6 480.9 767.5 481.9C767.4 483.0 767.2 484.0 767.1 485.0C766.8 485.8 766.2 486.2 765.6 486.5C764.4 487.0 763.1 487.2 761.8 487.4"/>
<ellipse cx="786.2" cy="472.1" rx="2.4" ry="1.6"/>
<path d="M788.1 460.0L790.0 459.8L835.6 487.6C837.5 489.0 838.8 490.0 840.2 490.8C841.9 491.5 843.8 492.0 845.8 492.0C847.8 491.9 849.5 491.5 851.2 490.8C853.1 490.0 854.8 489.2 855.9 488.4C856.9 487.5 857.5 486.5 857.5 485.2C857.5 484.0 857.2 483.0 856.8 482.1C856.0 481.0 855.0 480.0 853.6 479.0L846.5 474.4M842.6 470.5L834.0 456.8"/>
<path d="M786.2 460.6L786.2 463.8" stroke-width="1.8"/>
<path d="M787.5 462.8C790.0 463.8 793.1 465.6 795.6 469.4"/>
<path d="M795.6 480.2L800.0 483.8"/>
<path d="M806.9 454.0L807.5 470.0M810.6 453.5L810.0 470.6M815.2 451.9L812.5 471.2"/>
<ellipse cx="807.2" cy="476.6" rx="4.4" ry="2.1"/>
<path d="M802.9 477.2L803.2 505.0L801.5 540.0L803.8 541.0L807.8 520.0L811.9 518.1L811.6 477.2"/>
<path d="M806.2 489.4L807.8 489.0L805.8 520.0M806.2 489.4L804.8 520.0L803.5 540.0"/>
<path d="M781.9 484.0L783.5 486.0L786.2 484.0M782.8 485.2L783.5 492.5L790.0 531.0"/>
<path d="M783.8 489.4L802.8 490.2M785.2 500.2L802.8 502.5M787.5 514.6L802.5 516.9"/>
<path d="M780.0 536.2L790.0 531.0L801.9 528.1"/>
<path d="M780.0 536.2C780.0 539.4 783.8 541.9 790.0 544.4L812.5 551.9"/>
<path d="M813.1 506.2L827.5 517.8M808.8 526.2L825.0 526.2"/>
<path d="M824.4 536.9L836.5 493.8L839.0 522.5"/>
<path d="M839.0 522.8C841.9 523.1 844.4 524.4 844.8 527.5C844.8 531.9 843.1 535.0 840.0 536.2C835.0 537.5 827.5 537.2 823.1 539.0C819.4 541.0 818.8 543.8 818.5 547.5L812.5 552.1"/>
<ellipse cx="851.9" cy="526.9" rx="2.8" ry="1.8"/>
<ellipse cx="827.5" cy="542.5" rx="2.8" ry="1.8"/>
<ellipse cx="810.0" cy="561.2" rx="2.8" ry="1.8"/>
<ellipse cx="796.9" cy="568.8" rx="2.8" ry="1.8"/>
<path d="M852.0 445.5C850.0 451.2 848.1 456.2 846.5 460.2C844.4 466.9 842.5 473.8 841.1 479.5C843.1 477.5 845.0 476.0 846.5 474.4C849.4 467.5 851.9 460.6 854.4 455.6C858.1 449.4 861.9 443.8 865.2 440.0L869.4 435.0"/>
<path d="M853.8 463.1L860.6 462.5"/>
<path d="M825.2 536.2L836.9 523.8"/>
<ellipse cx="786.5" cy="472.4" rx="3.4" ry="2.2" stroke-width="1"/>
<!-- F -->
<path d="M779.4 644.0L786.9 643.1L796.9 631.2"/>
<path d="M779.4 621.9L779.8 643.8M786.2 626.2L786.9 643.1"/>
<path d="M779.4 595.0C782.5 596.2 786.2 595.0 789.4 593.5C791.9 592.5 793.8 593.1 795.2 594.0"/>
<path d="M834.0 596.0C834.8 600.0 835.6 603.8 836.9 606.1C837.8 607.5 839.0 607.5 839.8 607.0C841.2 606.0 842.1 604.0 842.6 602.2C843.1 600.0 843.1 597.8 843.6 596.5C845.0 595.0 847.5 594.5 850.2 594.1C855.0 593.1 858.8 590.0 862.5 586.9C866.2 583.1 869.4 580.0 872.5 579.4C877.5 578.8 883.8 578.1 887.5 576.2C891.2 574.4 893.1 570.6 893.1 565.0C893.1 561.2 894.4 558.1 896.9 556.9C898.8 556.0 900.0 556.9 901.2 558.5C903.1 560.2 907.5 560.2 910.6 559.6C913.1 558.8 914.4 557.5 914.5 555.0L914.5 539.4"/>
<path d="M849.8 539.4L850.6 594.0"/>
<path d="M876.9 539.4L877.2 578.1"/>
<path d="M904.0 539.4L903.8 552.5C903.5 555.6 902.5 556.9 901.0 557.8"/>
<!-- G -->
<path d="M825.9 549.5L830.2 553.8"/>
<path d="M816.9 550.2L777.8 574.1C774.7 576.0 772.3 577.3 769.6 578.4"/>
<path d="M830.2 553.8C827.8 554.4 824.7 554.7 822.7 555.7C820.4 557.3 818.8 560.0 816.9 562.7C815.3 564.7 813.0 565.9 810.6 567.0L794.2 575.8C791.9 578.0 790.3 580.7 788.0 583.0C785.6 585.0 779.4 587.0 774.7 588.1L769.6 590.0"/>
<path d="M794.2 575.8L795.8 578.1L816.1 566.4C818.0 564.7 819.2 562.0 820.8 560.0C822.3 558.4 824.7 557.8 827.4 558.0"/>
<path d="M849.8 537.0L850.5 590.5"/>
<!-- H -->
<path d="M983.1 457.8L825.9 549.5"/>
<path d="M901.2 493.1C897.5 494.4 893.8 496.9 890.0 499.0L877.5 505.6C873.8 507.5 870.6 509.4 869.0 512.5C867.8 515.6 865.6 519.4 861.9 521.5C858.8 523.1 853.8 523.1 850.0 523.5C846.9 524.0 845.0 525.6 844.8 528.5C844.5 531.2 842.5 532.8 839.4 534.0"/>
<path d="M894.2 496.9C894.5 500.0 893.8 503.1 891.5 505.4C889.4 507.2 885.0 508.5 880.0 508.5C876.2 508.8 872.8 508.8 871.2 509.8"/>
<path d="M898.1 470.2C900.0 470.8 901.2 470.6 902.2 470.0"/>
<path d="M895.6 470.2L900.0 474.0"/>
<path d="M857.5 485.2C858.5 493.8 857.2 506.2 854.2 520.6"/>
<ellipse cx="877.1" cy="512.9" rx="2.8" ry="1.8"/>
<path d="M904.0 525.0C901.9 524.4 900.6 522.8 900.5 520.6L900.0 510.0"/>
<path d="M903.8 525.6L904.0 540.0M914.4 523.8L914.5 540.0M876.6 525.0L876.9 540.0"/>
<!-- I -->
<path d="M683.8 600.2C685.6 603.1 687.5 606.9 689.0 610.0L689.8 617.2C690.6 619.0 693.8 619.4 695.2 617.2"/>
<path d="M689.4 600.2L689.5 610.6M694.4 600.2L695.4 617.2"/>
<path d="M695.2 617.2C700.0 616.9 707.5 617.2 711.9 619.0C715.6 621.0 718.8 624.4 719.8 628.8L720.4 634.8C721.2 636.5 724.4 636.5 726.2 634.0"/>
<path d="M720.6 600.2L720.6 634.8"/>
<path d="M726.9 600.2L726.2 634.0"/>
<path d="M731.5 600.2C732.2 602.2 733.8 603.2 735.6 603.2L737.8 603.0L741.2 602.5C742.5 601.9 743.1 601.0 743.1 600.0"/>
<path d="M737.8 600.2L737.8 603.0"/>
<path d="M749.4 600.2L749.4 643.8"/>
<path d="M726.2 634.0C732.5 636.0 742.5 637.8 749.0 638.1"/>
<path d="M749.4 643.8C750.6 646.2 755.0 648.1 760.0 648.5C765.0 648.5 772.5 645.0 780.0 643.5"/>
<path d="M779.4 597.2L779.8 622.5"/>
<path d="M780.0 619.4L794.4 627.8"/>
<!-- J -->
<path d="M811.5 402.8C813.8 405.0 820.0 406.9 827.5 411.0C831.2 413.1 833.8 414.8 836.9 415.1L857.5 414.8C862.5 414.5 868.8 414.8 872.5 416.0C875.6 417.2 878.1 419.8 878.5 422.5C878.5 424.0 877.5 426.9 875.8 428.5C874.4 429.2 873.1 429.6 871.9 429.6C870.0 429.5 868.1 429.1 866.5 429.0C865.0 429.0 863.8 429.1 862.6 429.4C861.2 429.8 860.2 430.2 859.4 430.8C858.5 431.5 857.9 432.5 857.5 433.4C857.0 434.5 856.8 435.6 856.6 436.8C856.4 437.6 856.0 438.4 855.5 438.9C854.4 439.9 853.1 440.6 851.8 441.1C850.0 441.6 847.8 441.9 845.8 442.1C843.8 442.5 842.1 442.8 840.8 443.2C839.4 443.9 838.2 444.6 837.5 445.5C836.6 446.4 836.1 447.2 835.9 448.1C835.6 448.9 835.4 449.5 835.2 450.0C834.8 451.2 833.1 452.2 830.6 452.8C828.8 453.1 825.0 451.5 821.2 449.8C818.1 448.1 816.2 447.5 813.8 447.2C811.2 447.0 809.4 447.1 807.5 447.2L790.0 450.2C788.1 450.6 787.2 451.0 786.2 451.5L765.0 463.8"/>
<path d="M804.4 397.5C805.2 401.2 806.9 404.0 810.6 406.0C815.0 407.8 825.0 414.0 832.5 417.2C835.0 418.2 836.9 418.2 838.8 418.1L855.0 418.1C856.5 417.8 857.5 417.1 858.2 416.5C859.4 415.8 860.2 415.4 861.0 415.2"/>
<path d="M876.9 423.6C876.2 424.4 875.5 424.6 874.6 424.6C873.1 424.5 871.9 424.2 870.8 424.1C869.4 424.0 867.8 423.9 866.4 423.9C865.0 424.0 863.8 424.1 862.6 424.4C861.2 424.9 860.2 425.4 859.4 426.0C858.4 426.9 857.6 427.8 857.1 428.5C856.6 429.6 856.2 430.6 856.0 431.8C855.8 433.1 855.6 434.4 855.5 435.6C855.1 436.4 854.6 436.9 853.9 437.2C852.9 437.6 851.9 437.8 850.6 437.8L844.5 437.8C842.8 438.0 841.1 438.4 839.6 438.9C838.4 439.4 837.2 439.9 836.4 440.5C835.5 441.4 834.9 442.2 834.5 443.2C834.1 444.4 834.0 445.4 833.9 446.5C833.8 447.8 832.2 449.4 829.8 450.2C828.1 450.6 825.0 449.0 821.9 447.5C818.8 446.0 816.9 445.2 814.4 445.0C811.9 444.8 809.4 444.9 807.5 445.0L790.0 448.0C788.1 448.4 786.9 448.9 785.6 449.5L763.8 462.0L765.0 463.8"/>
<!-- K -->
<path d="M795.7 578.1L796.1 626.8"/>
<path d="M799.9 578.8L800.3 596.7L808.0 593.1L800.5 588.8"/>
<path d="M808.0 573.4L809.5 596.5C809.2 601.3 806.1 606.1 799.4 610.0L797.0 610.7"/>
<path d="M810.9 572.5L812.4 592.4L818.6 587.4L812.4 582.3"/>
<path d="M817.6 567.9L822.4 592.7L831.3 598.2"/>
<path d="M820.1 566.0L824.6 592.2"/>
<path d="M828.4 559.5L831.7 596.7M831.3 559.5L834.2 596.3"/>
<path d="M797.0 610.7L802.3 616.2L826.5 603.2"/>
<path d="M803.7 618.8L827.2 607.3"/>
<path d="M805.1 623.6L827.7 611.9"/>
<ellipse cx="830.6" cy="606.1" rx="4.3" ry="5.8" transform="rotate(15 830.6 606.1)"/>
<ellipse cx="830.6" cy="606.3" rx="2.1" ry="3.1" transform="rotate(15 830.6 606.3)"/>
<ellipse cx="799.2" cy="623.9" rx="3.8" ry="5.3" transform="rotate(15 799.2 623.9)"/>
<ellipse cx="799.1" cy="624.1" rx="1.7" ry="2.7" transform="rotate(15 799.1 624.1)"/>
<path d="M810.9 622.0L817.6 625.8L826.3 614.0"/>
</g>
<!-- PAN END -->
<!-- LEADERS -->
<g id="leaders" stroke-width="1.3" stroke-linecap="butt">
<path d="M316.6 39V280.3L353.1 325.6"/>
<path d="M453.9 39V231.2"/>
<path d="M523.8 39V530.3L590.7 603.3"/>
<path d="M594.2 39V397.5"/>
<path d="M660.5 39V61.5M660.5 93.5V363.1L614.4 413.1"/>
<path d="M761.7 39V370"/>
<path d="M870 39V368.7"/>
<path d="M451.3 873.5V948M451.3 980V1002"/>
<path d="M541.5 873.5V1002"/>
<path d="M624.4 873.5V1002"/>
<path d="M713.2 873.5V1002"/>
<path d="M802.4 873.5V1002"/>
</g>
<!-- STAR BOXES -->
<g id="stars">
<rect x="644.3" y="61.5" width="32.4" height="32.2" fill="#fff"/>
<path id="st" fill="#000" stroke="none" d="M660.5 66.5 L663.2 74.6 H671.9 L664.9 79.7 L667.5 88 L660.5 82.9 L653.5 88 L656.1 79.7 L649.1 74.6 H657.8Z"/>
<rect x="435.2" y="948" width="32" height="32" fill="#fff"/>
<path fill="#000" stroke="none" transform="translate(-209.2,886.4)" d="M660.5 66.5 L663.2 74.6 H671.9 L664.9 79.7 L667.5 88 L660.5 82.9 L653.5 88 L656.1 79.7 L649.1 74.6 H657.8Z"/>
</g>
<!-- TABLE -->
<g id="table" stroke-width="1.6" stroke-linejoin="miter" stroke-linecap="butt">
<rect x="408" y="769.2" width="432.6" height="101.8"/>
<path d="M494.5 769.2V871M581.2 769.2V871M667.5 769.2V871M754 769.2V871"/>
</g>
<!-- FASTENERS -->
<g id="fasteners">
<g stroke-width="1.6" stroke-linejoin="round">
<path fill="#fff" d="M449.1 811.7V842.6Q449.1 844.6 454.0 844.9Q458.9 844.6 458.9 842.6V811.7"/>
<path d="M449.1 816.9Q454.0 819.3 458.9 816.9" stroke-width="1.36"/>
<path d="M449.1 822.1Q454.0 824.5 458.9 822.1" stroke-width="1.36"/>
<path d="M449.1 827.2Q454.0 829.6 458.9 827.2" stroke-width="1.36"/>
<path d="M449.1 832.4Q454.0 834.8 458.9 832.4" stroke-width="1.36"/>
<path d="M449.1 837.6Q454.0 840.0 458.9 837.6" stroke-width="1.36"/>
<ellipse cx="454.0" cy="810.3" rx="12.5" ry="3.9" fill="#fff"/>
<ellipse cx="454.0" cy="809.1" rx="12.1" ry="3.6" fill="#fff"/>
<path fill="#fff" d="M445.4 802.7L448.7 800.7Q454.0 799.3 459.3 800.7L462.6 802.7L462.3 810.0Q454.0 813.4 445.7 810.0Z"/>
<path d="M445.4 802.7Q449.7 804.7 454.0 804.9Q458.3 804.7 462.6 802.7" stroke-width="1.28"/>
<path d="M450.1 804.7V812.0M458.3 804.7V812.0" stroke-width="1.28"/>
</g>
<g stroke-width="1.5" stroke-linejoin="round">
<path fill="#fff" d="M618.9 810.2V831.2Q618.9 833.2 623.7 833.5Q628.5 833.2 628.5 831.2V810.2"/>
<path d="M618.9 816.0Q623.7 818.4 628.5 816.0" stroke-width="1.275"/>
<path d="M618.9 820.4Q623.7 822.8 628.5 820.4" stroke-width="1.275"/>
<path d="M618.9 824.8Q623.7 827.2 628.5 824.8" stroke-width="1.275"/>
<path d="M618.9 828.8Q623.7 831.2 628.5 828.8" stroke-width="1.275"/>
<ellipse cx="623.7" cy="808.8" rx="12.4" ry="3.8" fill="#fff"/>
<ellipse cx="623.7" cy="807.6" rx="12.0" ry="3.5" fill="#fff"/>
<path fill="#fff" d="M616.9 801.3L619.5 799.3Q623.7 797.9 627.9 799.3L630.5 801.3L630.2 808.4Q623.7 811.8 617.2 808.4Z"/>
<path d="M616.9 801.3Q620.3 803.3 623.7 803.5Q627.1 803.3 630.5 801.3" stroke-width="1.2"/>
<path d="M620.6 803.3V810.4M627.1 803.3V810.4" stroke-width="1.2"/>
</g>
<g stroke-width="1.3" stroke-linejoin="round">
<path fill="#fff" d="M708.5 799.2V850.5Q708.5 852.5 712.5 852.8Q716.5 852.5 716.5 850.5V799.2"/>
<path d="M708.5 832.2Q712.5 834.6 716.5 832.2" stroke-width="1.105"/>
<path d="M708.5 836.8Q712.5 839.2 716.5 836.8" stroke-width="1.105"/>
<path d="M708.5 841.2Q712.5 843.6 716.5 841.2" stroke-width="1.105"/>
<path d="M708.5 845.5Q712.5 847.9 716.5 845.5" stroke-width="1.105"/>
<path d="M708.5 849.2Q712.5 851.6 716.5 849.2" stroke-width="1.105"/>
<path d="M715.2 800.2V832.0" stroke-width="0.91"/>
<ellipse cx="712.5" cy="798.3" rx="8.0" ry="3.0" fill="#fff"/>
<ellipse cx="712.5" cy="797.1" rx="7.6" ry="2.7" fill="#fff"/>
<path fill="#fff" d="M707.5 792.9L709.4 790.9Q712.5 789.5 715.6 790.9L717.5 792.9L717.2 797.5Q712.5 801.0 707.8 797.5Z"/>
<path d="M707.5 792.9Q710.0 794.9 712.5 795.1Q715.0 794.9 717.5 792.9" stroke-width="1.04"/>
<path d="M710.2 794.9V799.5M715.0 794.9V799.5" stroke-width="1.04"/>
</g>
<g stroke-width="1.6" stroke-linejoin="round">
<path fill="#fff" d="M792.1 812.2V844.0Q792.1 846.0 797.8 846.3Q803.5 846.0 803.5 844.0V812.2"/>
<path d="M792.1 821.7Q797.8 824.1 803.5 821.7" stroke-width="1.36"/>
<path d="M792.1 827.3Q797.8 829.7 803.5 827.3" stroke-width="1.36"/>
<path d="M792.1 833.6Q797.8 836.0 803.5 833.6" stroke-width="1.36"/>
<path d="M792.1 839.2Q797.8 841.6 803.5 839.2" stroke-width="1.36"/>
<ellipse cx="797.8" cy="809.5" rx="14.6" ry="6.0" fill="#fff"/>
<ellipse cx="797.8" cy="808.3" rx="14.2" ry="5.7" fill="#fff"/>
<path fill="#fff" d="M787.3 796.2L791.3 794.2Q797.8 792.8 804.3 794.2L808.3 796.2L808.0 810.1Q797.8 813.5 787.6 810.1Z"/>
<path d="M787.3 796.2Q792.5 798.2 797.8 798.4Q803.0 798.2 808.3 796.2" stroke-width="1.28"/>
<path d="M793.1 798.2V812.1M803.0 798.2V812.1" stroke-width="1.28"/>
</g>
<g stroke-width="1.8"><rect x="528.6" y="806.6" width="17.4" height="33.8" rx="3.2" fill="#fff"/><path d="M529.4 810.6Q537.3 812.2 545.2 810.6" stroke-width="1.4"/><path d="M531 808.2H543.6" stroke-width="2.2"/><path d="M529.6 837.2Q537.3 838.6 545 837.2" stroke-width="1.3"/></g>
</g>
<!-- FASTENERS END -->
</svg>
<div class="lbl" style="left:315.5px;top:16.7px">5</div>
<div class="lbl" style="left:452.8px;top:16.7px">6</div>
<div class="lbl" style="left:524.2px;top:16.7px">7</div>
<div class="lbl" style="left:594.2px;top:16.7px">3</div>
<div class="lbl" style="left:658.2px;top:16.7px">4</div>
<div class="lbl" style="left:762.2px;top:16.7px">2</div>
<div class="lbl" style="left:867.5px;top:16.7px">1</div>
<div class="lbl" style="left:451px;top:1003.6px">8</div>
<div class="lbl" style="left:541.2px;top:1003.6px">9</div>
<div class="lbl" style="left:622.8px;top:1003.6px">10</div>
<div class="lbl" style="left:711.9px;top:1003.6px">11</div>
<div class="lbl" style="left:803.2px;top:1003.6px">12</div>
</body>
</html>
